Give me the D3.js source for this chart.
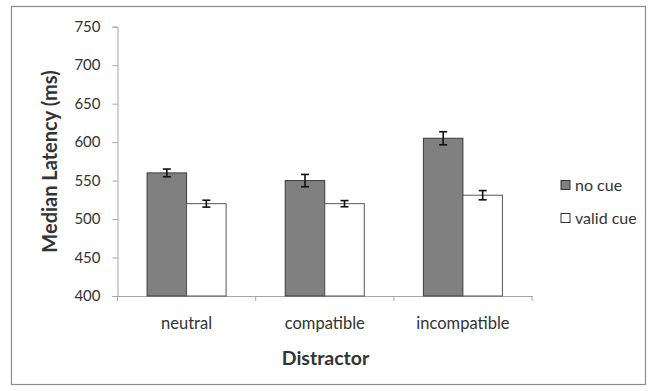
<!DOCTYPE html>
<html>
<head>
<meta charset="utf-8">
<script src="https://cdn.jsdelivr.net/npm/d3@7"></script>
<style>
  body { margin: 0; background: #fff; }
  text { font-family: Lato, "Open Sans", sans-serif; fill: #333; }
</style>
</head>
<body>
<div id="container"></div>
<script>
const categories = ["neutral", "compatible", "incompatible"];
const seriesNames = ["no cue", "valid cue"];
const noCue = [560, 550, 605];
const noCueErr = [5, 8, 8.5];
const validCue = [520, 520, 531];
const validCueErr = [4.5, 4, 6];
const yTicks = [400, 450, 500, 550, 600, 650, 700, 750];

const w = 657, h = 391;
const plotLeft = 117.5, plotRight = 532, plotTop = 26.7, plotBottom = 296;
const fills = ["#808080", "#ffffff"];

const svg = d3.select("#container").append("svg")
  .attr("width", w).attr("height", h);

svg.append("rect")
  .attr("x", 11.5).attr("y", 6.5).attr("width", 634).attr("height", 378)
  .attr("fill", "#fff").attr("stroke", "#8c8c8c").attr("stroke-width", 1.2);

const yScale = d3.scaleLinear().domain([400, 750]).range([plotBottom, plotTop]);
const xScale = d3.scaleBand().domain(categories).range([plotLeft, plotRight])
  .paddingInner(0.428).paddingOuter(0.214);
const xSub = d3.scaleBand().domain(seriesNames).range([0, xScale.bandwidth()]);

const yAxis = d3.axisLeft(yScale).tickValues(yTicks).tickSize(5).tickPadding(12);
const gy = svg.append("g").attr("transform", "translate(" + plotLeft + ",0)").call(yAxis);
gy.select(".domain").attr("stroke", "#a6a6a6");
gy.selectAll(".tick line").attr("stroke", "#a6a6a6");
gy.selectAll(".tick text").style("font-size", "15px").attr("fill", "#333");

const xAxis = d3.axisBottom(xScale).tickSize(0).tickPadding(21);
const gx = svg.append("g").attr("transform", "translate(0," + plotBottom + ")").call(xAxis);
gx.select(".domain").attr("stroke", "#a6a6a6");
gx.selectAll(".tick text").style("font-size", "16.5px").attr("fill", "#333");

// category boundary ticks
const step = xScale.step();
gx.selectAll(".bound").data(d3.range(categories.length + 1)).enter()
  .append("line")
  .attr("x1", i => plotLeft + i * step).attr("x2", i => plotLeft + i * step)
  .attr("y1", 0).attr("y2", 5)
  .attr("stroke", "#a6a6a6");

const rows = categories.map((c, i) => ({
  cat: c,
  vals: [
    { s: seriesNames[0], v: noCue[i], e: noCueErr[i], k: 0 },
    { s: seriesNames[1], v: validCue[i], e: validCueErr[i], k: 1 }
  ]
}));

const groups = svg.selectAll(".grp").data(rows).enter().append("g")
  .attr("transform", d => "translate(" + xScale(d.cat) + ",0)");

groups.selectAll("rect").data(d => d.vals).enter().append("rect")
  .attr("x", d => xSub(d.s))
  .attr("y", d => yScale(d.v))
  .attr("width", xSub.bandwidth())
  .attr("height", d => plotBottom - yScale(d.v))
  .attr("fill", d => fills[d.k])
  .attr("stroke", d => d.k === 0 ? "#3a3a3a" : "#555")
  .attr("stroke-width", 1);

const err = groups.selectAll(".err").data(d => d.vals).enter().append("g")
  .attr("transform", d => "translate(" + (xSub(d.s) + xSub.bandwidth() / 2) + ",0)")
  .attr("stroke", "#111").attr("stroke-width", 1.6);
err.append("line").attr("x1", 0).attr("x2", 0)
  .attr("y1", d => yScale(d.v + d.e)).attr("y2", d => yScale(d.v - d.e));
err.append("line").attr("x1", -4).attr("x2", 4)
  .attr("y1", d => yScale(d.v + d.e)).attr("y2", d => yScale(d.v + d.e));
err.append("line").attr("x1", -4).attr("x2", 4)
  .attr("y1", d => yScale(d.v - d.e)).attr("y2", d => yScale(d.v - d.e));

// axis titles
svg.append("text")
  .attr("transform", "translate(56.5,161.5) rotate(-90)")
  .attr("text-anchor", "middle")
  .style("font-size", "20px").style("font-weight", "bold").attr("fill", "#111")
  .text("Median Latency (ms)");

svg.append("text")
  .attr("x", 325.5).attr("y", 365)
  .attr("text-anchor", "middle")
  .style("font-size", "19.5px").style("font-weight", "bold").attr("fill", "#111")
  .text("Distractor");

// legend
const legend = svg.selectAll(".leg").data(seriesNames).enter().append("g")
  .attr("transform", (d, i) => "translate(561," + (180.5 + i * 33) + ")");
legend.append("rect")
  .attr("width", 9).attr("height", 9)
  .attr("fill", (d, i) => fills[i])
  .attr("stroke", "#333").attr("stroke-width", 1);
legend.append("text")
  .attr("x", 14).attr("y", 10)
  .style("font-size", "16px").attr("fill", "#333")
  .text(d => d);
</script>
</body>
</html>
